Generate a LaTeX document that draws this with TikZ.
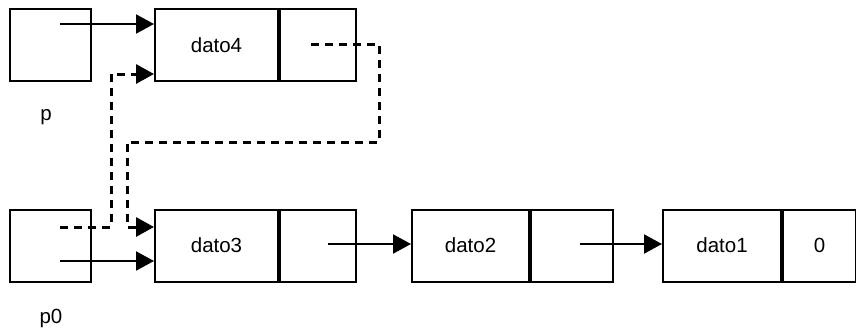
\documentclass[tikz,border=0pt]{standalone}
\usepackage{fontspec}
\setmainfont{Liberation Sans}
\usepackage{tikz}
\usetikzlibrary{arrows.meta,calc,positioning}

\begin{document}
\begin{tikzpicture}[
    x=1pt, y=-1pt,
    every node/.style={font=\fontsize{20.5}{24}\selectfont},
    cell/.style={draw, line width=2pt, minimum height=72pt, inner sep=0pt},
    ptr/.style={line width=2pt, -{Triangle[length=18pt,width=19pt]}},
    dptr/.style={line width=3pt, dash pattern=on 8pt off 6pt,
                 -{Triangle[length=18pt,width=19pt]}}
]
\useasboundingbox (0,0) rectangle (856,327);

% punteros
\node[cell, minimum width=81pt] (p)  at (50.5,45)   {};
\node[cell, minimum width=81pt] (p0) at (50.5,245.5) {};
\node at (46,117) (lp)  {p};
\node at (51,318) (lp0) {p0};

% nodos de la lista
\node[cell, minimum width=123pt] (d4) at (216.5,45) {dato4\hspace{12pt}};
\node[cell, minimum width=76pt, right=0pt of d4] (d4n) {};
\node[cell, minimum width=123pt] (d3) at (216.5,245.5) {dato3\hspace{12pt}};
\node[cell, minimum width=76pt, right=0pt of d3] (d3n) {};
\node[cell, minimum width=117pt] (d2) at (470.5,245.5) {dato2\hspace{10pt}};
\node[cell, minimum width=82pt, right=0pt of d2] (d2n) {};
\node[cell, minimum width=118pt] (d1) at (722,245.5) {dato1\hspace{10pt}};
\node[cell, minimum width=73pt, right=0pt of d1] (d1n) {0};

\coordinate (pS)  at (60,24);
\coordinate (p0S) at (60,261);
\coordinate (p0D) at (60,227);
\coordinate (d4D) at (311,44);
\coordinate (d3S) at (328,244);
\coordinate (d2S) at (580,244);
\coordinate (j1)  at (111,74);
\coordinate (j2)  at (379,142);
\coordinate (j3)  at (127,227);

\draw[ptr] (pS)  -- (pS -| d4.west);
\draw[ptr] (p0S) -- (p0S -| d3.west);
\draw[ptr] (d3S) -- (d3S -| d2.west);
\draw[ptr] (d2S) -- (d2S -| d1.west);
% enlaces nuevos
\draw[dptr] (p0D) -| (j1) -- (j1 -| d4.west);
\draw[dptr] (d4D) -| (j2) -| (j3) -- (j3 -| d3.west);
\end{tikzpicture}
\end{document}
